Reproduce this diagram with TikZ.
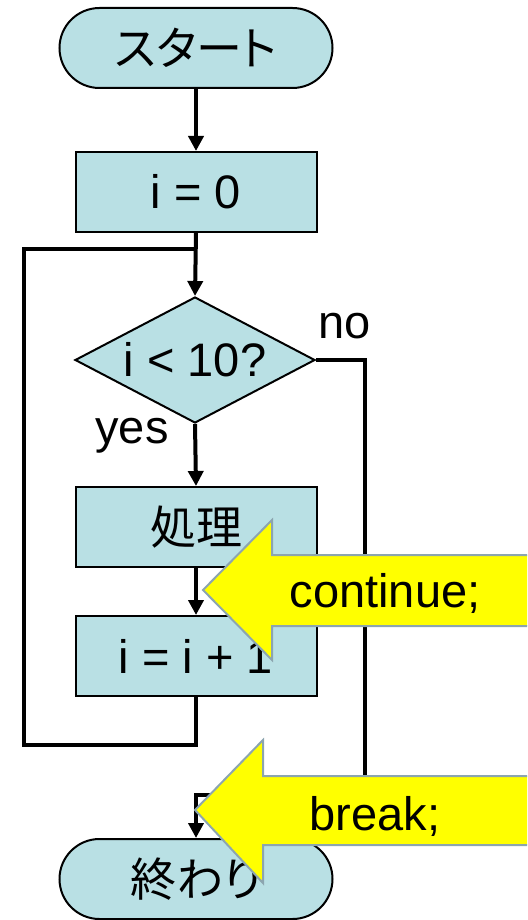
\documentclass[tikz,border=0pt]{standalone}
\usepackage{fontspec}
\setmainfont{Liberation Sans}
\newfontfamily\jp[RawFeature=+palt]{Noto Sans CJK JP}
\usetikzlibrary{shapes.geometric,shapes.misc,arrows.meta}
\definecolor{boxfill}{RGB}{185,224,228}
\definecolor{arrowedge}{RGB}{140,165,175}
\definecolor{hl}{RGB}{255,255,0}
\begin{document}
\begin{tikzpicture}[x=1pt,y=-1pt,
 base/.style={draw=black, line width=2pt, fill=boxfill, inner sep=0pt, font=\fontsize{47}{50}\selectfont},
 terminal/.style={base, rounded rectangle, minimum width=273pt, minimum height=80pt},
 process/.style={base, rectangle, minimum width=241pt, minimum height=80pt},
 decision/.style={base, diamond, aspect=1.9, minimum width=240pt, minimum height=126pt},
 conn/.style={line width=4pt},
 arr/.style={conn, -{Triangle[width=15pt,length=15pt]}},
 callout/.style={fill=hl, draw=arrowedge, line width=2pt, line join=miter},
 lbl/.style={font=\fontsize{47}{50}\selectfont, inner sep=0pt, anchor=base},
 jpt/.style={font=\jp\fontsize{46}{50}\selectfont}
]
\useasboundingbox (0,0) rectangle (527,920);
\clip (0,0) rectangle (527,920);

% nodes
\node[terminal, jpt] (start) at (196,48) {スタート};
\node[process] (init) at (196,192) {i = 0};
\node[decision] (cond) at (195,360) {i < 10?};
\node[process, jpt] (proc) at (196,527) {処理};
\node[process] (inc) at (196,656) {i = i + 1};
\node[terminal, jpt] (fin) at (196,879) {終わり};

% labels
\node[lbl] (no) at (345,338) {no};
\node[lbl] (yes) at (132,443) {yes};

% coordinates
\coordinate (lb) at (196,745);
\coordinate (ll) at (24,745);
\coordinate (lt) at (24,249);
\coordinate (lj) at (196,249);
\coordinate (nr) at (365,360);
\coordinate (nb) at (365,795);
\coordinate (nj) at (196,795);

% connectors
\draw[arr] (start.south) -- (init.north);
\draw[arr] (init.south) -- (cond.north);
\draw[arr] (cond.south) -- (proc.north);
\draw[arr] (proc.south) -- (inc.north);
\draw[conn] (inc.south) -- (lb) -- (ll) -- (lt) -- (lj);
\draw[arr] (cond.east) -- (nr) -- (nb) -- (nj) -- (fin.north);

% callout arrows
\draw[callout] (203,590) -- (272,520) -- (272,555) -- (540,555) -- (540,626) -- (272,626) -- (272,660) -- cycle;
\node[lbl] (ctext) at (385,607) {continue;};
\draw[callout] (195,810) -- (263,740) -- (263,776) -- (540,776) -- (540,845) -- (263,845) -- (263,883) -- cycle;
\node[lbl] (btext) at (375,830) {break;};
\end{tikzpicture}
\end{document}
